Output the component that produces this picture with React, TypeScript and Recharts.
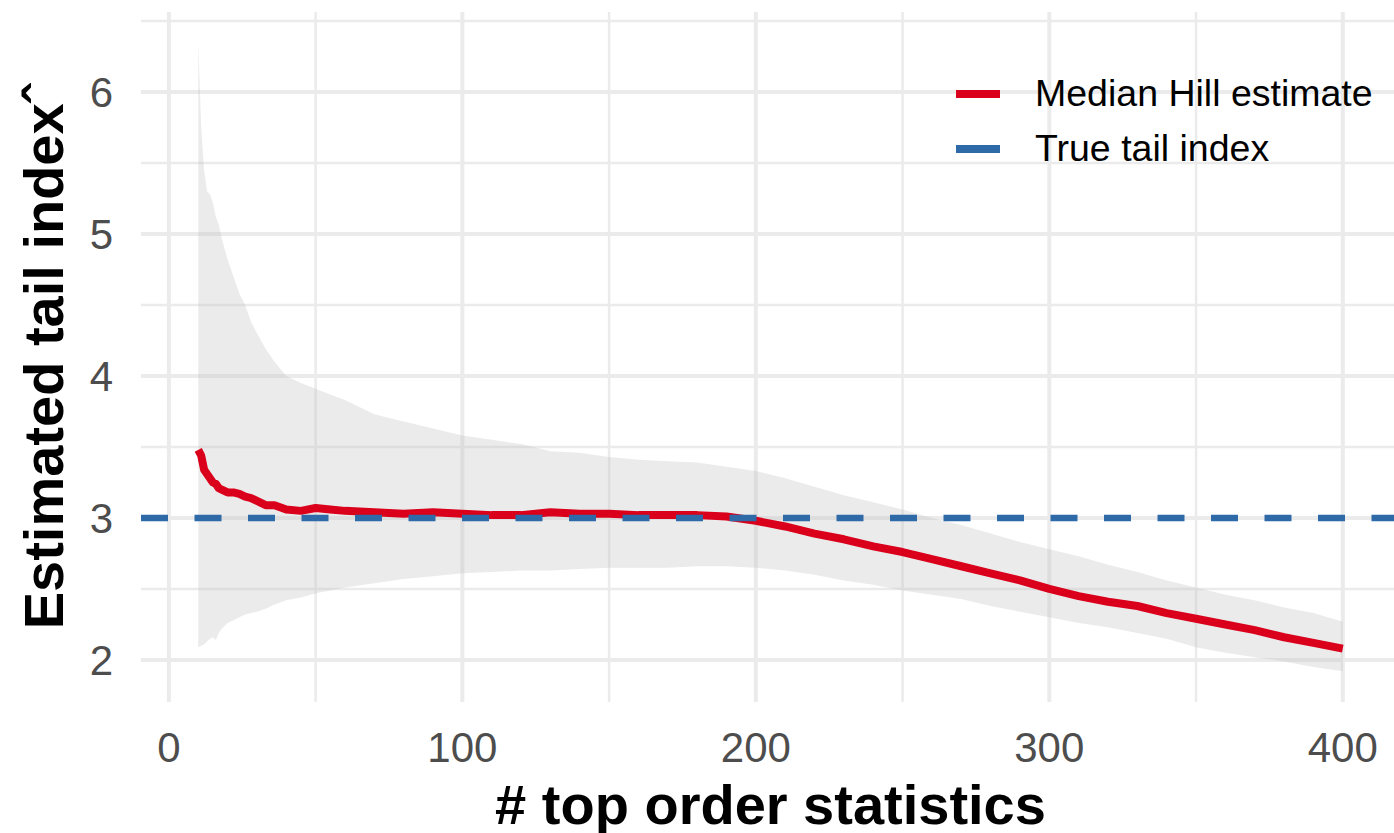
import React from "react";
import {
  ComposedChart,
  Area,
  Line,
  XAxis,
  YAxis,
  CartesianGrid,
  ReferenceLine,
  Legend,
  Label,
} from "recharts";

// number of top order statistics k
const kValues = [
  10, 11, 12, 13, 14, 15, 16, 17, 18, 20, 22, 24, 26, 28, 30, 33, 36, 40, 45, 50,
  55, 60, 70, 80, 90, 100, 110, 120, 130, 140, 150, 160, 170, 180, 190, 200, 210,
  220, 230, 240, 250, 260, 270, 280, 290, 300, 310, 320, 330, 340, 350, 360, 370,
  380, 390, 400,
];

// lower / upper edge of the grey band
const bandLow = [
  2.09, 2.1, 2.11, 2.13, 2.15, 2.16, 2.14, 2.19, 2.22, 2.26, 2.28, 2.3, 2.32, 2.33,
  2.34, 2.36, 2.39, 2.42, 2.44, 2.47, 2.49, 2.51, 2.54, 2.57, 2.59, 2.61, 2.62,
  2.63, 2.63, 2.64, 2.65, 2.65, 2.65, 2.66, 2.66, 2.65, 2.63, 2.6, 2.56, 2.53,
  2.49, 2.46, 2.43, 2.38, 2.34, 2.3, 2.26, 2.23, 2.19, 2.15, 2.09, 2.05, 2.02,
  1.99, 1.95, 1.92,
];
const bandHigh = [
  6.35, 5.75, 5.45, 5.3, 5.28, 5.22, 5.12, 5.07, 4.97, 4.82, 4.7, 4.58, 4.5, 4.38,
  4.3, 4.19, 4.1, 4.0, 3.95, 3.91, 3.87, 3.83, 3.73, 3.68, 3.63, 3.58, 3.55, 3.52,
  3.47, 3.46, 3.43, 3.41, 3.4, 3.39, 3.36, 3.33, 3.28, 3.22, 3.16, 3.11, 3.06,
  3.0, 2.95, 2.89, 2.83, 2.78, 2.73, 2.67, 2.62, 2.56, 2.51, 2.46, 2.42, 2.37,
  2.33, 2.27,
];

// median Hill estimate
const medianHill = [
  3.48, 3.44, 3.34, 3.31, 3.28, 3.25, 3.24, 3.21, 3.2, 3.18, 3.18, 3.17, 3.15,
  3.14, 3.12, 3.09, 3.09, 3.06, 3.05, 3.07, 3.06, 3.05, 3.04, 3.03, 3.04, 3.03,
  3.02, 3.02, 3.04, 3.03, 3.03, 3.02, 3.02, 3.02, 3.01, 2.98, 2.94, 2.89, 2.85,
  2.8, 2.76, 2.71, 2.66, 2.61, 2.56, 2.5, 2.45, 2.41, 2.38, 2.33, 2.29, 2.25,
  2.21, 2.16, 2.12, 2.08,
];

const trueTailIndex = 3;

const xTicks = [0, 100, 200, 300, 400];
const xMinor = [50, 150, 250, 350];
const yTicks = [2, 3, 4, 5, 6];
const yMinor = [2.5, 3.5, 4.5, 5.5, 6.5];

const RED = "#DA001B";
const BLUE = "#2E69A8";
const GRID = "#EBEBEB";
const FONT = "'Liberation Sans', Arial, sans-serif";

const data = kValues.map((k, i) => ({
  k,
  band: [bandLow[i], bandHigh[i]],
  median: medianHill[i],
}));

const legendItems = [
  { label: "Median Hill estimate", color: RED },
  { label: "True tail index", color: BLUE },
];

function renderLegend() {
  return (
    <div style={{ fontFamily: FONT }}>
      {legendItems.map((item) => (
        <div
          key={item.label}
          style={{ display: "flex", alignItems: "center", height: 55 }}
        >
          <svg width={44} height={10} style={{ display: "block" }}>
            <line x1={0} y1={5} x2={44} y2={5} stroke={item.color} strokeWidth={8} />
          </svg>
          <span
            style={{
              marginLeft: 35,
              fontSize: 37.5,
              color: "#000",
              whiteSpace: "nowrap",
            }}
          >
            {item.label}
          </span>
        </div>
      ))}
    </div>
  );
}

export default function App() {
  return (
    <div
      style={{
        position: "absolute",
        left: 0,
        top: 0,
        width: 1394,
        height: 833,
        overflow: "hidden",
        background: "#fff",
        fontFamily: FONT,
      }}
    >
      <ComposedChart
        width={1400}
        height={833}
        data={data}
        margin={{ top: 12, right: 0, bottom: 0, left: 0 }}
      >
        <CartesianGrid
          stroke={GRID}
          strokeWidth={2.5}
          horizontalValues={yMinor}
          verticalValues={xMinor}
        />
        <CartesianGrid
          stroke={GRID}
          strokeWidth={4}
          horizontalValues={yTicks}
          verticalValues={xTicks}
        />
        <XAxis
          type="number"
          dataKey="k"
          domain={[-9.5, 419.5]}
          ticks={xTicks}
          allowDataOverflow
          axisLine={false}
          tickLine={false}
          tickSize={0}
          tickMargin={30}
          height={131}
          tick={{ fontSize: 42, fill: "#4D4D4D" }}
        >
          <Label
            content={({ viewBox }: any) => (
              <text
                x={viewBox.x + viewBox.width / 2}
                y={824}
                textAnchor="middle"
                fontSize={56}
                fontWeight="bold"
                fill="#000"
              >
                # top order statistics
              </text>
            )}
          />
        </XAxis>
        <YAxis
          type="number"
          domain={[1.704, 6.563]}
          ticks={yTicks}
          allowDataOverflow
          axisLine={false}
          tickLine={false}
          tickSize={0}
          tickMargin={28}
          width={141}
          tick={{ fontSize: 42, fill: "#4D4D4D" }}
        >
          <Label
            content={({ viewBox }: any) => {
              const cx = 63;
              const cy = viewBox.y + viewBox.height / 2;
              return (
                <text
                  x={cx}
                  y={cy}
                  transform={`rotate(-90 ${cx} ${cy})`}
                  textAnchor="middle"
                  fontSize={56}
                  fontWeight="bold"
                  fill="#000"
                >
                  Estimated tail indexˆ
                </text>
              );
            }}
          />
        </YAxis>
        <Area
          type="linear"
          dataKey="band"
          fill="#BDBDBD"
          fillOpacity={0.3}
          stroke="none"
          isAnimationActive={false}
          activeDot={false}
        />
        <Line
          type="linear"
          dataKey="median"
          stroke={RED}
          strokeWidth={8}
          strokeLinejoin="round"
          dot={false}
          activeDot={false}
          isAnimationActive={false}
        />
        <ReferenceLine
          y={trueTailIndex}
          stroke={BLUE}
          strokeWidth={6.5}
          strokeDasharray="27 26.5"
        />
        <Legend
          layout="vertical"
          align="center"
          verticalAlign="middle"
          content={renderLegend}
          wrapperStyle={{ position: "absolute", left: 956, top: 66, width: 440 }}
        />
      </ComposedChart>
    </div>
  );
}
